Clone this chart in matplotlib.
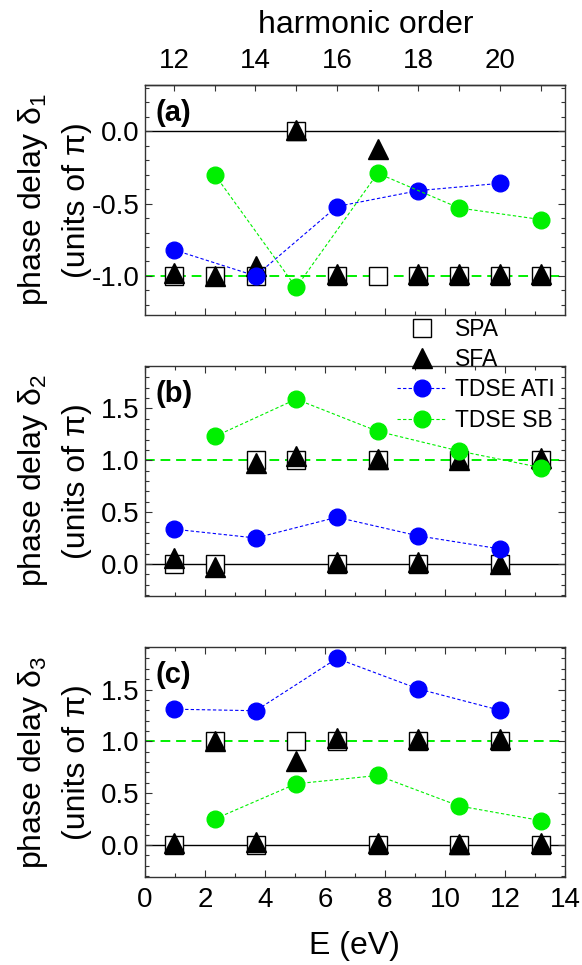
import numpy as np
import matplotlib
matplotlib.use('Agg')
import matplotlib.pyplot as plt
from matplotlib.ticker import MultipleLocator, FixedLocator, FormatStrFormatter

plt.rcParams['font.family'] = ['Liberation Sans', 'DejaVu Sans']
plt.rcParams['mathtext.fontset'] = 'custom'
plt.rcParams['mathtext.rm'] = 'Liberation Sans'
plt.rcParams['mathtext.it'] = 'Liberation Sans:italic'
plt.rcParams['axes.unicode_minus'] = False

# harmonic orders and matching photoelectron energies (eV)
harm = [12, 13, 14, 15, 16, 17, 18, 19, 20, 21]
energy = [0.97, 2.33, 3.69, 5.04, 6.40, 7.76, 9.12, 10.47, 11.83, 13.19]

# phase delays in units of pi
spa_1 = [-1.0, -1.0, -1.0, 0.0, -1.0, -1.0, -1.0, -1.0, -1.0, -1.0]
sfa_1 = [-0.98, -1.0, -0.93, 0.01, -0.99, -0.12, -0.99, -0.99, -0.99, -0.99]
ati_1 = [-0.82, -1.0, -0.52, -0.41, -0.36]   # even harmonics
sb_1 = [-0.30, -1.08, -0.29, -0.53, -0.61]   # odd harmonics

spa_2 = [0.0, 0.0, 1.0, 1.0, 0.0, 1.0, 0.0, 1.0, 0.0, 1.0]
sfa_2 = [0.06, -0.03, 0.97, 1.04, 0.02, 1.01, 0.02, 1.0, 0.0, 1.02]
ati_2 = [0.335, 0.25, 0.45, 0.27, 0.145]
sb_2 = [1.23, 1.59, 1.28, 1.09, 0.93]

spa_3 = [0.0, 1.0, 0.0, 1.0, 1.0, 0.0, 1.0, 0.0, 1.0, 0.0]
sfa_3 = [0.02, 1.0, 0.03, 0.81, 1.03, 0.02, 1.02, 0.01, 1.02, 0.02]
ati_3 = [1.31, 1.295, 1.80, 1.505, 1.30]
sb_3 = [0.25, 0.59, 0.67, 0.376, 0.235]

panels = [
    ('(a)', '1', spa_1, sfa_1, ati_1, sb_1, -1.0, (-1.27, 0.32)),
    ('(b)', '2', spa_2, sfa_2, ati_2, sb_2, 1.0, (-0.31, 1.91)),
    ('(c)', '3', spa_3, sfa_3, ati_3, sb_3, 1.0, (-0.31, 1.91)),
]

green = '#00f000'
blue = '#0000ff'

E_even = energy[0::2]
E_odd = energy[1::2]

# linear relation between harmonic order and energy
w = (energy[-1] - energy[0]) / (harm[-1] - harm[0])
def e2q(e):
    return (np.asarray(e) - energy[0]) / w + harm[0]
def q2e(q):
    return (np.asarray(q) - harm[0]) * w + energy[0]

fig = plt.figure(figsize=(5.82, 9.65), dpi=100)
bottoms = [0.6736, 0.3824, 0.0912]
axes = []
for i, (tag, idx, spa, sfa, ati, sb, ref, ylim) in enumerate(panels):
    ax = fig.add_axes([0.249, bottoms[i], 0.7216, 0.2383])
    axes.append(ax)
    ax.axhline(0.0, color='black', lw=1.0, zorder=1)
    ax.axhline(ref, color=green, lw=1.4, ls=(0, (5, 3)), zorder=1)
    ax.plot(energy, spa, ls='none', marker='s', ms=13, mfc='white', mec='black',
            mew=1.0, label='SPA', zorder=3)
    ax.plot(energy, sfa, ls='none', marker='^', ms=14, mfc='black', mec='black',
            label='SFA', zorder=4)
    ax.plot(E_even, ati, ls=(0, (3, 2)), lw=0.8, color=blue, marker='o', ms=12,
            mfc=blue, mec=blue, label='TDSE ATI', zorder=5)
    ax.plot(E_odd, sb, ls=(0, (3, 2)), lw=0.8, color=green, marker='o', ms=12,
            mfc=green, mec=green, label='TDSE SB', zorder=5)
    ax.set_xlim(0, 14)
    ax.set_ylim(*ylim)
    ax.xaxis.set_major_locator(MultipleLocator(2))
    ax.xaxis.set_minor_locator(MultipleLocator(1))
    ax.yaxis.set_major_locator(MultipleLocator(0.5))
    ax.yaxis.set_minor_locator(MultipleLocator(0.1))
    ax.yaxis.set_major_formatter(FormatStrFormatter('%.1f'))
    ax.tick_params(which='both', direction='in', top=(i > 0), right=True,
                   labelsize=20, color='#333333')
    ax.tick_params(which='major', length=5, width=0.8, pad=4)
    ax.tick_params(which='minor', length=3, width=0.8)
    ax.tick_params(axis='x', which='major', pad=7)
    if i < 2:
        ax.tick_params(axis='x', labelbottom=False)
    for s in ax.spines.values():
        s.set_linewidth(1.0)
        s.set_color('#333333')
    ax.text(0.025, 0.94, tag, transform=ax.transAxes, fontsize=21,
            fontweight='bold', va='top', ha='left')
    ax.set_ylabel('phase delay δ$_{%s}$\n(units of π)' % idx, fontsize=23,
                  linespacing=1.55)
    ax.yaxis.set_label_coords(-0.125, 0.5)

# harmonic order axis on top of panel (a)
top = axes[0].secondary_xaxis('top', functions=(e2q, q2e))
top.xaxis.set_major_locator(FixedLocator(harm))
top.set_xticklabels([str(q) if q % 2 == 0 else '' for q in harm])
top.tick_params(direction='in', length=4, width=0.8, labelsize=20, pad=8,
                color='#333333')
top.set_xlabel('harmonic order', fontsize=23, labelpad=11)
top.xaxis.label.set_x(0.527)
top.spines['top'].set_linewidth(1.0)
top.spines['top'].set_color('#333333')

axes[2].set_xlabel('E (eV)', fontsize=23, labelpad=13)

axes[1].legend(loc='upper left', bbox_to_anchor=(0.60, 1.21), frameon=False,
               fontsize=16.5, handlelength=2.2, handletextpad=0.35,
               labelspacing=0.32, borderpad=0, borderaxespad=0)

fig.savefig('out.png', dpi=100)
